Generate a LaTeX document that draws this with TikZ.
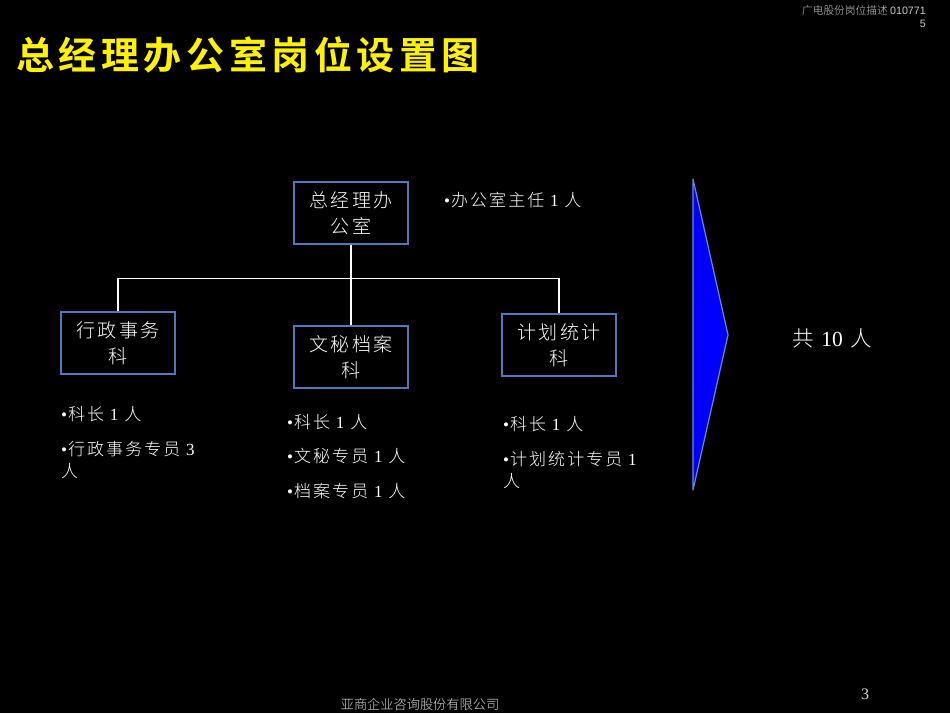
\documentclass[tikz,border=0pt]{standalone}
\usepackage{xcolor}
\usepackage{fontspec}
\usepackage{tikz}
\usetikzlibrary{positioning}
\setmainfont{Liberation Serif}
\setsansfont{Liberation Sans}
\newfontfamily\cjk[LetterSpace=12]{Noto Sans CJK SC Light}
\newfontfamily\cjkitem[LetterSpace=12]{Noto Sans CJK SC Light}
\newfontfamily\cjktitle[LetterSpace=12]{Noto Sans CJK SC Bold}
\newfontfamily\cjkplain{Noto Sans CJK SC Light}
\newcommand{\dotmark}{{\rmfamily\fontsize{17}{17}\selectfont •}\hspace{1pt}}
\definecolor{boxline}{HTML}{5575BD}
\definecolor{arrowline}{HTML}{6488E8}
\tikzset{
    unitbox/.style={rectangle, draw=boxline, line width=1.4pt, text=white, minimum width=114pt, minimum height=62pt, inner sep=0pt, align=center, font=\cjk\fontsize{19}{26}\selectfont},
    staffitem/.style={anchor=west, text=white, inner sep=0pt, align=left, font=\cjkitem\fontsize{17}{22.5}\selectfont},
    link/.style={draw=white, line width=1.2pt}
}

\begin{document}
\begin{tikzpicture}[x=1pt, y=-1pt]
    \useasboundingbox (0,0) rectangle (950,713);
    \fill [black] (0,0) rectangle (950,713);

    \node (title) [anchor=west, text=yellow, inner sep=0pt, font=\cjktitle\fontsize{38}{42}\selectfont] at (16,55) {总经理办公室岗位设置图};
    \node (docref) [anchor=north east, text=white!80!black, inner sep=0pt, align=right, font=\cjkplain\fontsize{10.7}{13}\selectfont] at (926,5.5) {广电股份岗位描述 {\sffamily 010771}\\{\sffamily 5}};

    \node (office) [unitbox] at (351,213) {总经理办\\公室};
    \node (admin) [unitbox] at (118,343) {行政事务\\科};
    \node (archive) [unitbox] at (351,357) {文秘档案\\科};
    \node (planning) [unitbox] at (559,345) {计划统计\\科};
    \coordinate (bus) at (351,278.5);

    \draw [link] (office) -- (archive);
    \draw [link] (admin.north) |- (bus) -| (planning.north);

    \node (officestaff) [staffitem] at (444,200) {\dotmark 办公室主任 {\rmfamily 1} 人};
    \node (adminhead) [staffitem] at (61,414) {\dotmark 科长 {\rmfamily 1} 人};
    \node (adminstaff) [staffitem, anchor=north west] at (61,441) {\dotmark 行政事务专员 {\rmfamily 3}\\人};
    \node (archivehead) [staffitem] at (287,422) {\dotmark 科长 {\rmfamily 1} 人};
    \node (archivesec) [staffitem] at (287,456) {\dotmark 文秘专员 {\rmfamily 1} 人};
    \node (archivefile) [staffitem] at (287,491) {\dotmark 档案专员 {\rmfamily 1} 人};
    \node (planninghead) [staffitem] at (503,424) {\dotmark 科长 {\rmfamily 1} 人};
    \node (planningstaff) [staffitem, anchor=north west] at (503,451) {\dotmark 计划统计专员 {\rmfamily 1}\\人};

    \draw [arrowline, fill=blue, line width=1.2pt, line join=round] (693,179) -- (728,335) -- (693,490) -- cycle;
    \node (total) [text=white, inner sep=0pt, font=\cjk\fontsize{21.5}{24}\selectfont] at (832,338) {共 {\rmfamily 10} 人};

    \node (page) [text=white!85!black, inner sep=0pt, font=\rmfamily\fontsize{16}{18}\selectfont] at (865,694) {3};
    \node (footer) [text=white!85!black, inner sep=0pt, font=\cjkplain\fontsize{13.2}{16}\selectfont] at (420,704) {亚商企业咨询股份有限公司};
\end{tikzpicture}
\end{document}
